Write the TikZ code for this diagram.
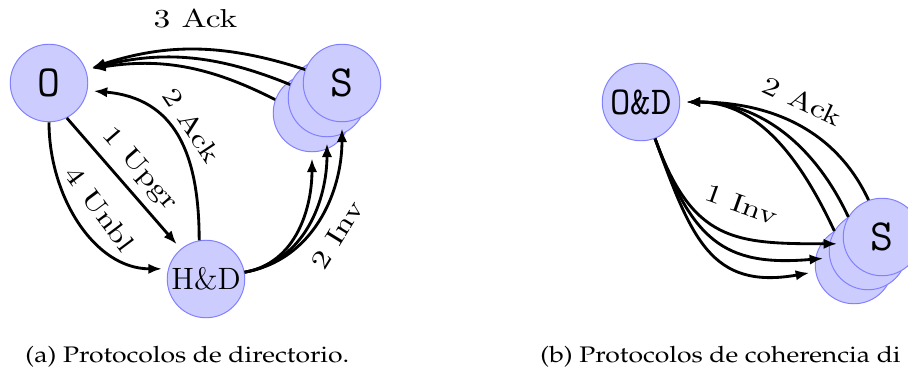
\documentclass[tikz,border=0pt]{standalone}
\usepackage[T1,TU]{fontenc}
\usepackage{graphicx}
\usetikzlibrary{arrows.meta}
\tikzset{
    state/.style={%
        circle, draw=blue!50, fill=blue!20, line width=.4pt,
        inner sep=0pt, minimum size=31.4pt,
        font=\fontsize{18}{18}\selectfont\ttfamily
        },
    msg/.style={-{Latex[length=5.5pt,width=4.2pt]}, line width=1.15pt, shorten >=2.5pt},
    lbl/.style={font=\fontsize{10.5}{12}\selectfont},
    subcap/.style={%
        anchor=base west, inner sep=0pt,
        font=\fontencoding{T1}\fontfamily{ppl}\fontsize{9.1}{11}\selectfont
        }
}
\newcommand{\wide}[1]{\scalebox{1.29}[1]{#1}}
\newcommand{\capwide}[1]{\scalebox{1.18}[1]{#1}}

\begin{document}
\begin{tikzpicture}[x=0.405pt, y=-0.405pt]
\useasboundingbox (0,0) rectangle (908,367);

% directorio
\node[state] (O) at (49,83) {O};
\node[state] (Sc) at (312,113) {};
\node[state] (Sb) at (327,98) {};
\node[state] (S) at (342,83) {S};
\node[state, font=\fontsize{12.5}{13}\selectfont\rmfamily] (HD) at (206,279) {H\&D};

\draw[msg] (S.160) to[bend right=18] node[lbl, above=5pt] {\wide{3 Ack}} (O.20);
\draw[msg] (Sb.160) to[bend right=18] (O.20);
\draw[msg] (Sc.160) to[bend right=18] (O.20);

\draw[msg] (O.-63) -- node[lbl, sloped, above] {\wide{1 Upgr}} (HD.130);
\draw[msg] (HD.100) to[out=90, in=-5, looseness=1.2] node[lbl, sloped, above] {\wide{2 Ack}} (O.-11);
\draw[msg] (O.-90) to[out=-90, in=180] node[lbl, sloped, above=2pt] {\wide{4 Unbl}} (HD.165);

\draw[msg] (HD.10) to[out=10, in=-90] node[lbl, sloped, below=2pt, pos=.48] {\wide{2 Inv}} (S.-90);
\draw[msg] (HD.10) to[out=10, in=-90] (Sb.-90);
\draw[msg] (HD.10) to[out=10, in=-90] (Sc.-90);

% coherencia distribuida
\node[state, font=\fontsize{16}{16}\selectfont\ttfamily] (OD) at (641,102) {O\&D};
\node[state] (Tc) at (854,265) {};
\node[state] (Tb) at (868,251) {};
\node[state] (T) at (882,237) {S};

\draw[msg] (OD.-69) to[out=-70, in=180, looseness=1.3] node[lbl, sloped, above=5pt, pos=.55] {\wide{1 Inv}} (T.190);
\draw[msg] (OD.-69) to[out=-70, in=185, looseness=1.3] (Tb.190);
\draw[msg] (OD.-69) to[out=-70, in=190, looseness=1.3] (Tc.190);

\draw[msg] (T.110) to[out=115, in=0] node[lbl, sloped, above=2pt] {\wide{2 Ack}} (OD.0);
\draw[msg] (Tb.120) to[out=115, in=0] (OD.0);
\draw[msg] (Tc.120) to[out=115, in=0] (OD.0);

\node[subcap] (capa) at (25,362) {\capwide{(a) Protocolos de directorio.}};
\node[subcap] (capb) at (540,362) {\capwide{(b) Protocolos de coherencia di}};
\end{tikzpicture}
\end{document}
